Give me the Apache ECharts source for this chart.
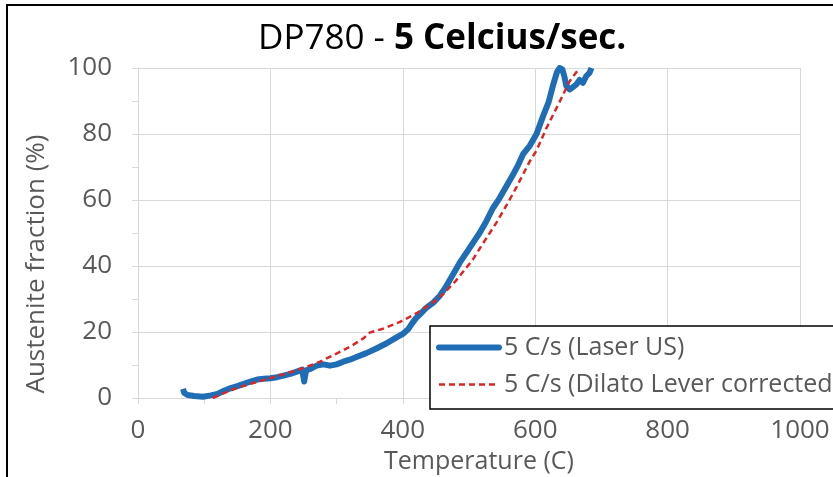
<!DOCTYPE html>
<html>
<head>
<meta charset="utf-8">
<script src="https://cdn.jsdelivr.net/npm/echarts@6/dist/echarts.min.js"></script>
<style>
    html, body {margin: 0; padding: 0; background: #fff;}
    #chart {width: 833px; height: 477px;}
</style>
</head>
<body>
<div id="chart"></div>
<script>
const laserTemp = [68, 70, 75, 85, 98, 110, 120, 130, 140, 150, 160, 170, 180, 190, 200, 210, 220, 230, 240, 248, 251, 254, 260, 270, 280, 290, 300, 310, 320, 330, 345, 360, 375, 390, 400, 408, 414, 420, 427, 435, 446, 456, 466, 476, 486, 496, 506, 516, 526, 536, 546, 556, 566, 574, 582, 592, 602, 612, 620, 627, 633, 637, 641, 644, 647, 652, 657, 662, 667, 672, 677, 682, 685]
const laserFrac = [2.8, 1.5, 0.9, 0.6, 0.4, 0.8, 1.2, 2.2, 3.0, 3.6, 4.3, 5.0, 5.6, 5.8, 6.0, 6.3, 6.8, 7.3, 8.0, 8.6, 5.0, 8.4, 8.8, 9.8, 10.2, 9.8, 10.2, 11.0, 11.6, 12.4, 13.6, 15.0, 16.5, 18.3, 19.4, 20.8, 22.6, 24.2, 25.6, 27.2, 28.9, 31.0, 34.0, 37.5, 41.0, 44.0, 47.0, 50.0, 53.5, 57.5, 60.5, 64.0, 67.5, 70.5, 74.0, 76.5, 80.0, 85.5, 89.5, 94.8, 98.8, 100, 99.6, 97.5, 94.6, 93.5, 94.2, 95.0, 96.4, 95.5, 97.5, 98.5, 100]

const dilatoTemp = [113, 130, 149, 170, 199, 225, 249, 275, 295, 320, 340, 350, 370, 395, 421, 446, 461, 480, 506, 520, 541, 557, 572, 592, 602, 617, 637, 652, 667]
const dilatoFrac = [0, 1.5, 3.0, 4.3, 6.0, 7.5, 9.0, 11.0, 13.0, 15.5, 18.0, 19.8, 21.0, 23.0, 25.7, 29.0, 31.5, 35.5, 42.0, 46.5, 53.0, 58.5, 64.0, 71.8, 75.0, 81.8, 89.8, 96.0, 100]

const xTicks = [0, 200, 400, 600, 800, 1000]
const yTicks = [0, 20, 40, 60, 80, 100]

const fontName = "Open Sans"
const gray = "#595959"
const gridGray = "#d9d9d9"
const blue = "#1f6eb5"
const red = "#dc2626"

let chartDom = document.getElementById('chart')
let myChart = echarts.init(chartDom, null, {width: 833, height: 477})

let laserData = laserTemp.map((t, i) => [t, laserFrac[i]])
let dilatoData = dilatoTemp.map((t, i) => [t, dilatoFrac[i]])

let axisCommon = {
    type: 'value',
    axisLine: {show: true, lineStyle: {color: gridGray, width: 1}},
    axisTick: {show: true, length: 6, lineStyle: {color: gridGray}},
    minorTick: {show: true, splitNumber: 2, length: 6, lineStyle: {color: gridGray}},
    splitLine: {show: true, lineStyle: {color: gridGray, width: 1}},
    nameLocation: 'middle'
}

let option = {
    animation: false,
    backgroundColor: '#fff',
    title: {
        left: 253,
        top: 17,
        text: '{a|DP780 - }{b|5 Celcius/sec.}',
        textStyle: {
            rich: {
                a: {fontFamily: fontName, fontSize: 35, fontWeight: 'normal', color: '#000'},
                b: {fontFamily: fontName, fontSize: 35, fontWeight: 'bold', color: '#000'}
            }
        }
    },
    graphic: [{
        type: 'rect',
        shape: {x: 7, y: 5, width: 900, height: 600},
        style: {fill: 'none', stroke: '#000', lineWidth: 2},
        silent: true
    }],
    grid: {left: 138, right: 33, top: 68, bottom: 79, outerBoundsMode: 'none'},
    xAxis: Object.assign({}, axisCommon, {
        min: xTicks[0],
        max: xTicks[xTicks.length - 1],
        interval: xTicks[1] - xTicks[0],
        name: 'Temperature (C)',
        nameGap: 51,
        nameTextStyle: {fontFamily: fontName, fontSize: 25, color: gray, padding: [0, 0, 0, 20]},
        axisLabel: {fontFamily: fontName, fontSize: 26, color: gray, margin: 20, formatter: (v) => String(v)}
    }),
    yAxis: Object.assign({}, axisCommon, {
        min: yTicks[0],
        max: yTicks[yTicks.length - 1],
        interval: yTicks[1] - yTicks[0],
        name: 'Austenite fraction (%)',
        nameGap: 88,
        nameTextStyle: {fontFamily: fontName, fontSize: 26, color: gray, padding: [0, 62, 0, 0]},
        axisLabel: {fontFamily: fontName, fontSize: 26, color: gray, margin: 26}
    }),
    legend: {
        orient: 'vertical',
        left: 430,
        top: 326,
        padding: [9, 10, 12, 6],
        itemGap: 12,
        itemWidth: 60,
        itemHeight: 8,
        backgroundColor: '#fff',
        borderColor: '#000',
        borderWidth: 1.5,
        itemStyle: {opacity: 0},
        textStyle: {fontFamily: fontName, fontSize: 25, color: gray},
        data: [
            {name: '5 C/s (Laser US)', lineStyle: {width: 6, color: blue, cap: 'round'}},
            {name: '5 C/s (Dilato Lever corrected)', lineStyle: {width: 2.5, color: red, type: [6, 4]}}
        ]
    },
    series: [
        {
            name: '5 C/s (Laser US)',
            type: 'line',
            data: laserData,
            symbol: 'none',
            lineStyle: {color: blue, width: 6, join: 'round'},
            itemStyle: {color: blue},
            z: 2
        },
        {
            name: '5 C/s (Dilato Lever corrected)',
            type: 'line',
            data: dilatoData,
            symbol: 'none',
            lineStyle: {color: red, width: 2.5, type: [6, 4]},
            itemStyle: {color: red},
            z: 3
        }
    ]
}

myChart.setOption(option)
</script>
</body>
</html>
